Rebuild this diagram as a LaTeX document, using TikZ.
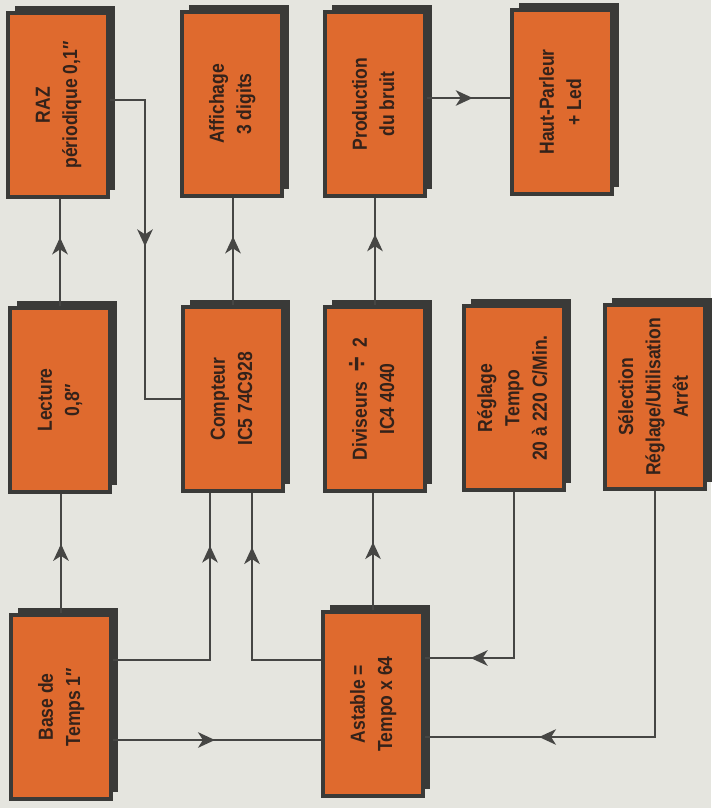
\documentclass[tikz,border=0pt]{standalone}
\usepackage{fontspec}
\setmainfont{Liberation Sans}[FakeStretch=0.86]
\usetikzlibrary{positioning,arrows.meta,shadows,decorations.markings}

\definecolor{boxorange}{RGB}{223,106,46}
\definecolor{boxedge}{RGB}{58,58,56}
\definecolor{wire}{RGB}{70,70,68}
\definecolor{paper}{RGB}{229,229,223}
\definecolor{ink}{RGB}{52,34,26}

\newcommand{\vtext}[1]{\rotatebox{90}{\begin{tabular}{@{}c@{}}#1\end{tabular}}}

\tikzset{
  block/.style={fill=boxorange, draw=boxedge, line width=2.4pt,
    minimum width=2.5cm, minimum height=4.6cm, inner sep=0pt,
    text=ink, font=\fontsize{14.5}{19.5}\selectfont\bfseries,
    general shadow={fill=boxedge, shadow xshift=0.17cm, shadow yshift=0.17cm}},
  wire/.style={draw=wire, line width=1.6pt},
  midarrow/.style={postaction={decorate}, decoration={markings,
    mark=at position #1 with {\arrow{Stealth[length=12pt,width=11pt,inset=3.5pt]}}}}
}

\begin{document}
\begin{tikzpicture}[x=0.025cm,y=-0.025cm]
  \useasboundingbox (0,0) rectangle (711,808);
  \fill[paper] (0,0) rectangle (711,808);

  % blocs
  \node[block] (raz)       at (58,105)  {\vtext{RAZ\\périodique 0,1″}};
  \node[block] (lecture)   at (60,400)  {\vtext{Lecture\\0,8″}};
  \node[block] (base)      at (61,707)  {\vtext{Base de\\Temps 1″}};
  \node[block] (affichage) at (232,104) {\vtext{Affichage\\3 digits}};
  \node[block] (compteur)  at (233,399) {\vtext{Compteur\\IC5 74C928}};
  \node[block] (production) at (375,104) {\vtext{Production\\du bruit}};
  \node[block] (diviseurs) at (375,399) {\vtext{Diviseurs\ \ \scalebox{1.5}{÷}\ \ 2\\IC4 4040}};
  \node[block] (astable)   at (373,704) {\vtext{Astable =\\Tempo x 64}};
  \node[block] (hautparleur) at (562,102) {\vtext{Haut-Parleur\\+ Led}};
  \node[block] (reglage)   at (514,398) {\vtext{Réglage\\Tempo\\20 à 220 C/Min.}};
  \node[block] (selection) at (655,397) {\vtext{Sélection\\Réglage/Utilisation\\Arrêt}};

  % liaisons
  \draw[wire, midarrow=0.58] (base.north) -- (base.north |- lecture.south);
  \draw[wire, midarrow=0.64] (lecture.north) -- (lecture.north |- raz.south);
  \draw[wire, midarrow=0.49] (raz.east |- 0,100) -| (145,0 |- compteur.west) -- (compteur.west);
  \draw[wire, midarrow=0.64] (compteur.north) -- (compteur.north |- affichage.south);
  \draw[wire, midarrow=0.80] (base.east |- 0,660) -| (210,0 |- compteur.south);
  \draw[wire, midarrow=0.77] (astable.west |- 0,660) -| (252,0 |- compteur.south);
  \draw[wire, midarrow=0.49] (base.east |- 0,740) -- (astable.west |- 0,740);
  \draw[wire, midarrow=0.58] (astable.north) -- (astable.north |- diviseurs.south);
  \draw[wire, midarrow=0.66] (diviseurs.north) -- (diviseurs.north |- production.south);
  \draw[wire, midarrow=0.55] (production.east |- 0,98) -- (hautparleur.west |- 0,98);
  \draw[wire, midarrow=0.82] (reglage.south) |- (astable.east |- 0,658);
  \draw[wire, midarrow=0.76] (selection.south) |- (astable.east |- 0,737);
\end{tikzpicture}
\end{document}
